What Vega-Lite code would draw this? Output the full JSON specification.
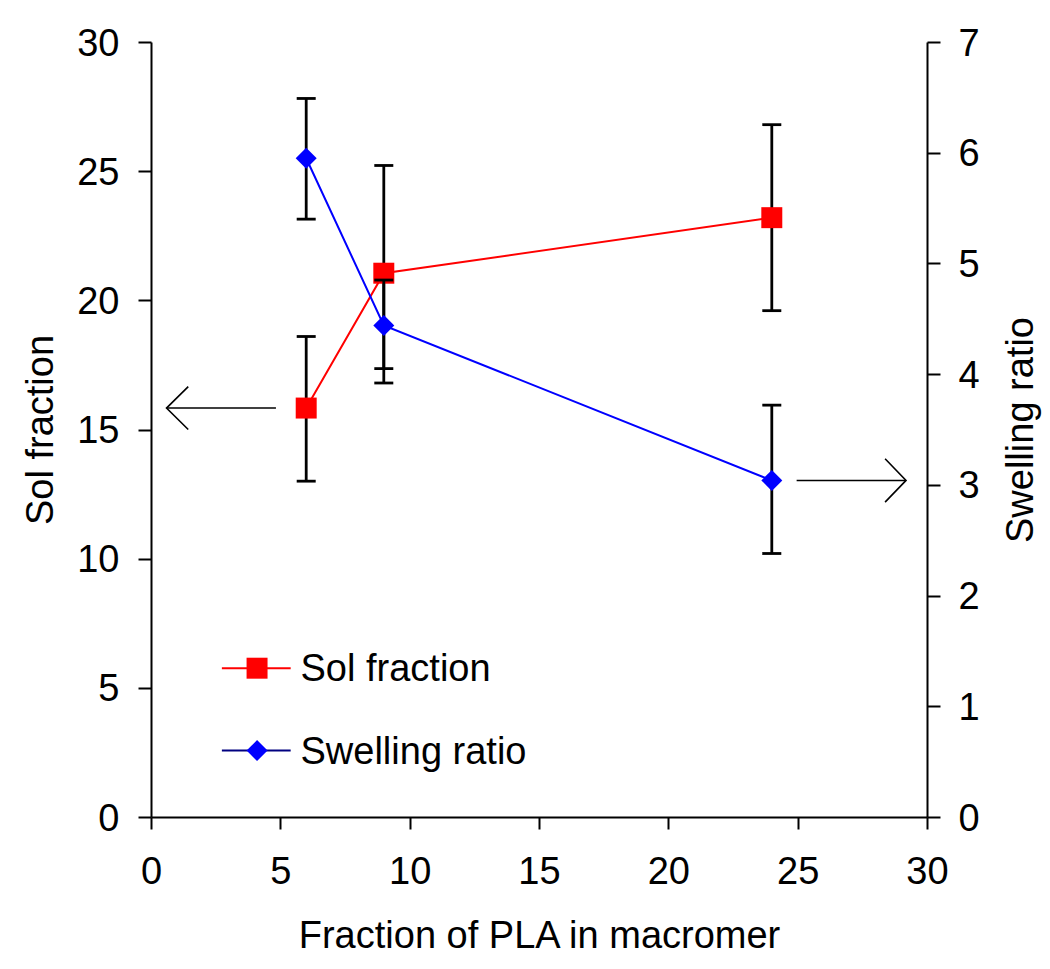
{
  "$schema": "https://vega.github.io/schema/vega-lite/v6.json",
  "width": 776,
  "height": 775,
  "autosize": {"type": "none"},
  "padding": {"left": 151, "top": 42, "right": 123, "bottom": 152},
  "background": "white",
  "config": {
    "view": {"stroke": null},
    "font": "Liberation Sans",
    "axis": {
      "grid": false,
      "domainColor": "black",
      "domainWidth": 2,
      "tickColor": "black",
      "tickWidth": 2,
      "labelColor": "black",
      "titleColor": "black",
      "labelFont": "Liberation Sans",
      "titleFont": "Liberation Sans",
      "labelFontSize": 38,
      "titleFontSize": 38,
      "titleFontWeight": "normal"
    }
  },
  "datasets": {
    "sol": [
      {"frac": 6, "val": 15.83, "lo": 13.0, "hi": 18.6},
      {"frac": 9, "val": 21.05, "lo": 16.8, "hi": 25.22},
      {"frac": 24, "val": 23.2, "lo": 19.6, "hi": 26.8}
    ],
    "swell": [
      {"frac": 6, "val": 5.95, "lo": 5.4, "hi": 6.49},
      {"frac": 9, "val": 4.44, "lo": 4.05, "hi": 4.85},
      {"frac": 24, "val": 3.04, "lo": 2.38, "hi": 3.72}
    ],
    "solArrow": [
      {"seg": "shaft", "o": 0, "frac": 0.6, "val": 15.83},
      {"seg": "shaft", "o": 1, "frac": 4.83, "val": 15.83},
      {"seg": "head", "o": 0, "frac": 1.44, "val": 16.66},
      {"seg": "head", "o": 1, "frac": 0.6, "val": 15.83},
      {"seg": "head", "o": 2, "frac": 1.44, "val": 15.0}
    ],
    "swellArrow": [
      {"seg": "shaft", "o": 0, "frac": 24.96, "val": 3.04},
      {"seg": "shaft", "o": 1, "frac": 29.19, "val": 3.04},
      {"seg": "head", "o": 0, "frac": 28.38, "val": 3.236},
      {"seg": "head", "o": 1, "frac": 29.19, "val": 3.04},
      {"seg": "head", "o": 2, "frac": 28.38, "val": 2.844}
    ],
    "legend": [
      {"series": "Sol fraction", "frac": 2.74, "frac2": 5.4, "mid": 4.1, "text": 5.78, "val": 5.76},
      {"series": "Swelling ratio", "frac": 2.74, "frac2": 5.4, "mid": 4.1, "text": 5.78, "val": 2.57}
    ]
  },
  "encoding": {
    "x": {
      "field": "frac",
      "type": "quantitative",
      "scale": {"domain": [0, 30], "nice": false, "zero": false},
      "axis": {
        "title": "Fraction of PLA in macromer",
        "values": [0, 5, 10, 15, 20, 25, 30],
        "tickSize": 12,
        "labelPadding": 24,
        "labelFlush": false,
        "titleBaseline": "alphabetic",
        "titleAnchor": "middle",
        "titleY": 130
      }
    }
  },
  "layer": [
    {
      "layer": [
        {
          "data": {"name": "sol"},
          "mark": {"type": "rule", "color": "black", "strokeWidth": 2.8},
          "encoding": {
            "y": {"field": "lo", "type": "quantitative", "scale": {"domain": [0, 30], "nice": false},
              "axis": {"orient": "left", "title": "Sol fraction", "values": [0, 5, 10, 15, 20, 25, 30], "tickSize": 13, "labelPadding": 19, "labelOffset": 2, "titleAngle": -90, "titleAlign": "center", "titleBaseline": "alphabetic", "titleX": -99, "titleY": 387.5}},
            "y2": {"field": "hi"}
          }
        },
        {
          "data": {"name": "sol"},
          "mark": {"type": "tick", "orient": "horizontal", "color": "black", "size": 19, "thickness": 2.8, "opacity": 1},
          "encoding": {
            "y": {"field": "lo", "type": "quantitative", "scale": {"domain": [0, 30], "nice": false},
              "axis": {"orient": "left", "title": "Sol fraction", "values": [0, 5, 10, 15, 20, 25, 30], "tickSize": 13, "labelPadding": 19, "labelOffset": 2, "titleAngle": -90, "titleAlign": "center", "titleBaseline": "alphabetic", "titleX": -99, "titleY": 387.5}}
          }
        },
        {
          "data": {"name": "sol"},
          "mark": {"type": "tick", "orient": "horizontal", "color": "black", "size": 19, "thickness": 2.8, "opacity": 1},
          "encoding": {
            "y": {"field": "hi", "type": "quantitative", "scale": {"domain": [0, 30], "nice": false},
              "axis": {"orient": "left", "title": "Sol fraction", "values": [0, 5, 10, 15, 20, 25, 30], "tickSize": 13, "labelPadding": 19, "labelOffset": 2, "titleAngle": -90, "titleAlign": "center", "titleBaseline": "alphabetic", "titleX": -99, "titleY": 387.5}}
          }
        },
        {
          "data": {"name": "sol"},
          "mark": {"type": "line", "color": "#FF0000", "strokeWidth": 2},
          "encoding": {
            "y": {"field": "val", "type": "quantitative", "scale": {"domain": [0, 30], "nice": false},
              "axis": {"orient": "left", "title": "Sol fraction", "values": [0, 5, 10, 15, 20, 25, 30], "tickSize": 13, "labelPadding": 19, "labelOffset": 2, "titleAngle": -90, "titleAlign": "center", "titleBaseline": "alphabetic", "titleX": -99, "titleY": 387.5}}
          }
        },
        {
          "data": {"name": "sol"},
          "mark": {"type": "point", "shape": "square", "filled": true, "color": "#FF0000", "size": 440, "opacity": 1},
          "encoding": {
            "y": {"field": "val", "type": "quantitative", "scale": {"domain": [0, 30], "nice": false},
              "axis": {"orient": "left", "title": "Sol fraction", "values": [0, 5, 10, 15, 20, 25, 30], "tickSize": 13, "labelPadding": 19, "labelOffset": 2, "titleAngle": -90, "titleAlign": "center", "titleBaseline": "alphabetic", "titleX": -99, "titleY": 387.5}}
          }
        },
        {
          "data": {"name": "solArrow"},
          "mark": {"type": "line", "color": "black", "strokeWidth": 1.6},
          "encoding": {
            "y": {"field": "val", "type": "quantitative", "scale": {"domain": [0, 30], "nice": false},
              "axis": {"orient": "left", "title": "Sol fraction", "values": [0, 5, 10, 15, 20, 25, 30], "tickSize": 13, "labelPadding": 19, "labelOffset": 2, "titleAngle": -90, "titleAlign": "center", "titleBaseline": "alphabetic", "titleX": -99, "titleY": 387.5}},
            "detail": {"field": "seg"},
            "order": {"field": "o"}
          }
        },
        {
          "data": {"name": "legend"},
          "transform": [{"filter": "datum.series === 'Sol fraction'"}],
          "mark": {"type": "rule", "color": "#FF0000", "strokeWidth": 2},
          "encoding": {
            "x2": {"field": "frac2"},
            "y": {"field": "val", "type": "quantitative", "scale": {"domain": [0, 30], "nice": false},
              "axis": {"orient": "left", "title": "Sol fraction", "values": [0, 5, 10, 15, 20, 25, 30], "tickSize": 13, "labelPadding": 19, "labelOffset": 2, "titleAngle": -90, "titleAlign": "center", "titleBaseline": "alphabetic", "titleX": -99, "titleY": 387.5}}
          }
        },
        {
          "data": {"name": "legend"},
          "transform": [{"filter": "datum.series === 'Swelling ratio'"}],
          "mark": {"type": "rule", "color": "#000080", "strokeWidth": 2},
          "encoding": {
            "x2": {"field": "frac2"},
            "y": {"field": "val", "type": "quantitative", "scale": {"domain": [0, 30], "nice": false},
              "axis": {"orient": "left", "title": "Sol fraction", "values": [0, 5, 10, 15, 20, 25, 30], "tickSize": 13, "labelPadding": 19, "labelOffset": 2, "titleAngle": -90, "titleAlign": "center", "titleBaseline": "alphabetic", "titleX": -99, "titleY": 387.5}}
          }
        },
        {
          "data": {"name": "legend"},
          "transform": [{"filter": "datum.series === 'Sol fraction'"}],
          "mark": {"type": "point", "shape": "square", "filled": true, "color": "#FF0000", "size": 440, "opacity": 1},
          "encoding": {
            "x": {"field": "mid", "type": "quantitative"},
            "y": {"field": "val", "type": "quantitative", "scale": {"domain": [0, 30], "nice": false},
              "axis": {"orient": "left", "title": "Sol fraction", "values": [0, 5, 10, 15, 20, 25, 30], "tickSize": 13, "labelPadding": 19, "labelOffset": 2, "titleAngle": -90, "titleAlign": "center", "titleBaseline": "alphabetic", "titleX": -99, "titleY": 387.5}}
          }
        },
        {
          "data": {"name": "legend"},
          "transform": [{"filter": "datum.series === 'Swelling ratio'"}],
          "mark": {"type": "point", "shape": "diamond", "filled": true, "color": "#0000FF", "size": 440, "opacity": 1},
          "encoding": {
            "x": {"field": "mid", "type": "quantitative"},
            "y": {"field": "val", "type": "quantitative", "scale": {"domain": [0, 30], "nice": false},
              "axis": {"orient": "left", "title": "Sol fraction", "values": [0, 5, 10, 15, 20, 25, 30], "tickSize": 13, "labelPadding": 19, "labelOffset": 2, "titleAngle": -90, "titleAlign": "center", "titleBaseline": "alphabetic", "titleX": -99, "titleY": 387.5}}
          }
        },
        {
          "data": {"name": "legend"},
          "mark": {"type": "text", "align": "left", "baseline": "middle", "font": "Liberation Sans", "fontSize": 38, "color": "black", "dy": 2},
          "encoding": {
            "x": {"field": "text", "type": "quantitative"},
            "y": {"field": "val", "type": "quantitative", "scale": {"domain": [0, 30], "nice": false},
              "axis": {"orient": "left", "title": "Sol fraction", "values": [0, 5, 10, 15, 20, 25, 30], "tickSize": 13, "labelPadding": 19, "labelOffset": 2, "titleAngle": -90, "titleAlign": "center", "titleBaseline": "alphabetic", "titleX": -99, "titleY": 387.5}},
            "text": {"field": "series"}
          }
        }
      ]
    },
    {
      "layer": [
        {
          "data": {"name": "swell"},
          "mark": {"type": "rule", "color": "black", "strokeWidth": 2.8},
          "encoding": {
            "y": {"field": "lo", "type": "quantitative", "scale": {"domain": [0, 7], "nice": false},
              "axis": {"orient": "right", "title": "Swelling ratio", "values": [0, 1, 2, 3, 4, 5, 6, 7], "tickSize": 13, "labelPadding": 18, "labelOffset": 2, "titleAngle": -90, "titleAlign": "center", "titleBaseline": "alphabetic", "titleX": 105, "titleY": 387.5}},
            "y2": {"field": "hi"}
          }
        },
        {
          "data": {"name": "swell"},
          "mark": {"type": "tick", "orient": "horizontal", "color": "black", "size": 19, "thickness": 2.8, "opacity": 1},
          "encoding": {
            "y": {"field": "lo", "type": "quantitative", "scale": {"domain": [0, 7], "nice": false},
              "axis": {"orient": "right", "title": "Swelling ratio", "values": [0, 1, 2, 3, 4, 5, 6, 7], "tickSize": 13, "labelPadding": 18, "labelOffset": 2, "titleAngle": -90, "titleAlign": "center", "titleBaseline": "alphabetic", "titleX": 105, "titleY": 387.5}}
          }
        },
        {
          "data": {"name": "swell"},
          "mark": {"type": "tick", "orient": "horizontal", "color": "black", "size": 19, "thickness": 2.8, "opacity": 1},
          "encoding": {
            "y": {"field": "hi", "type": "quantitative", "scale": {"domain": [0, 7], "nice": false},
              "axis": {"orient": "right", "title": "Swelling ratio", "values": [0, 1, 2, 3, 4, 5, 6, 7], "tickSize": 13, "labelPadding": 18, "labelOffset": 2, "titleAngle": -90, "titleAlign": "center", "titleBaseline": "alphabetic", "titleX": 105, "titleY": 387.5}}
          }
        },
        {
          "data": {"name": "swell"},
          "mark": {"type": "line", "color": "#0000FF", "strokeWidth": 2},
          "encoding": {
            "y": {"field": "val", "type": "quantitative", "scale": {"domain": [0, 7], "nice": false},
              "axis": {"orient": "right", "title": "Swelling ratio", "values": [0, 1, 2, 3, 4, 5, 6, 7], "tickSize": 13, "labelPadding": 18, "labelOffset": 2, "titleAngle": -90, "titleAlign": "center", "titleBaseline": "alphabetic", "titleX": 105, "titleY": 387.5}}
          }
        },
        {
          "data": {"name": "swell"},
          "mark": {"type": "point", "shape": "diamond", "filled": true, "color": "#0000FF", "size": 440, "opacity": 1},
          "encoding": {
            "y": {"field": "val", "type": "quantitative", "scale": {"domain": [0, 7], "nice": false},
              "axis": {"orient": "right", "title": "Swelling ratio", "values": [0, 1, 2, 3, 4, 5, 6, 7], "tickSize": 13, "labelPadding": 18, "labelOffset": 2, "titleAngle": -90, "titleAlign": "center", "titleBaseline": "alphabetic", "titleX": 105, "titleY": 387.5}}
          }
        },
        {
          "data": {"name": "swellArrow"},
          "mark": {"type": "line", "color": "black", "strokeWidth": 1.6},
          "encoding": {
            "y": {"field": "val", "type": "quantitative", "scale": {"domain": [0, 7], "nice": false},
              "axis": {"orient": "right", "title": "Swelling ratio", "values": [0, 1, 2, 3, 4, 5, 6, 7], "tickSize": 13, "labelPadding": 18, "labelOffset": 2, "titleAngle": -90, "titleAlign": "center", "titleBaseline": "alphabetic", "titleX": 105, "titleY": 387.5}},
            "detail": {"field": "seg"},
            "order": {"field": "o"}
          }
        }
      ]
    }
  ],
  "resolve": {"scale": {"y": "independent"}}
}
